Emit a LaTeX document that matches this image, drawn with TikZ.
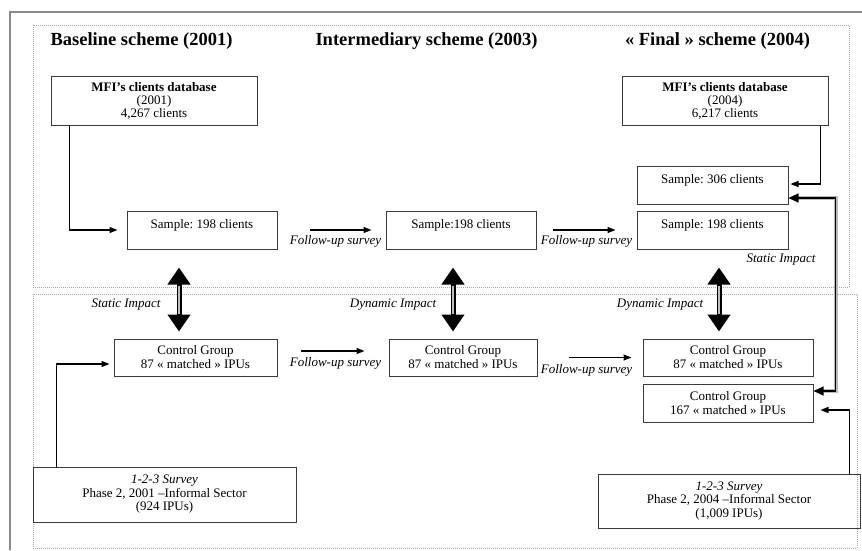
\documentclass[tikz,border=0pt]{standalone}
\usepackage{fontspec}
\setmainfont{Liberation Serif}
\frenchspacing
\usetikzlibrary{arrows.meta,calc}
\definecolor{boxline}{HTML}{3A3A3A}
\definecolor{frameline}{HTML}{8A8A8A}
\definecolor{dotline}{HTML}{A8A8A8}
\tikzset{
  box/.style={draw=boxline, line width=1pt, rectangle, inner sep=0pt, align=center,
    font=\fontsize{13}{13}\selectfont},
  ttl/.style={font=\fontsize{18.5}{20}\selectfont\bfseries, inner sep=0pt},
  lbl/.style={font=\fontsize{13}{13}\selectfont\itshape, inner sep=0pt},
  arr/.style={draw=black, line width=1.3pt, -{Triangle[width=6pt,length=8pt]}},
  bighead/.style={line width=5pt, {Triangle[width=22pt,length=17pt]}-{Triangle[width=22pt,length=17pt]}},
  bigcore/.style={draw=gray!50, line width=2pt},
}
\begin{document}
\begin{tikzpicture}[x=1pt,y=-1pt]
\useasboundingbox (0,0) rectangle (862,550);
% outer frame
\draw[frameline, line width=1.3pt] (862,12) -- (10,12) -- (10,550);
% dotted regions
\draw[dotline, line width=1pt, densely dotted] (33,25) rectangle (849,287);
\draw[dotline, line width=1pt, densely dotted] (33,294) rectangle (857,548);

% titles
\node[ttl] (t1) at (141.5,41) {Baseline scheme (2001)};
\node[ttl] (t2) at (426.5,41) {Intermediary scheme (2003)};
\node[ttl] (t3) at (717.5,41) {« Final » scheme (2004)};

% boxes
\node[box, minimum width=206pt, minimum height=49pt] (db1) at (154,100.5)
  {\textbf{MFI’s clients database}\\(2001)\\4,267 clients};
\node[box, minimum width=206pt, minimum height=49pt] (db2) at (725,100.5)
  {\textbf{MFI’s clients database}\\(2004)\\6,217 clients};
\node[box, minimum width=150pt, minimum height=38pt] (s1) at (202,230)
  {Sample: 198 clients\\\mbox{}};
\node[box, minimum width=150pt, minimum height=38pt] (s2) at (461,230)
  {Sample:198 clients\\\mbox{}};
\node[box, minimum width=151pt, minimum height=38pt] (s3) at (712.5,230)
  {Sample: 198 clients\\\mbox{}};
\node[box, minimum width=151pt, minimum height=38pt] (s306) at (712.5,185)
  {Sample: 306 clients\\\mbox{}};
\node[box, minimum width=163pt, minimum height=37pt] (c1) at (195.5,357.5)
  {Control Group\\[1pt]87 « matched » IPUs};
\node[box, minimum width=148pt, minimum height=37pt] (c2) at (463,357.5)
  {Control Group\\[1pt]87 « matched » IPUs};
\node[box, minimum width=170pt, minimum height=37pt] (c3) at (728,357.5)
  {Control Group\\[1pt]87 « matched » IPUs};
\node[box, minimum width=170pt, minimum height=38pt] (c167) at (728,403)
  {Control Group\\[1pt]167 « matched » IPUs};
\node[box, minimum width=263pt, minimum height=55pt] (sv1) at (164.5,494.5)
  {\textit{1-2-3 Survey}\\[0.5pt]Phase 2, 2001 –Informal Sector\\[0.5pt](924 IPUs)};
\node[box, minimum width=262pt, minimum height=54pt] (sv2) at (729,501)
  {\textit{1-2-3 Survey}\\[0.5pt]Phase 2, 2004 –Informal Sector\\[0.5pt](1,009 IPUs)};

% labels
\node[lbl] (fu1) at (335.5,241) {Follow-up survey};
\node[lbl] (fu2) at (586.5,241) {Follow-up survey};
\node[lbl] (fu3) at (335.5,363) {Follow-up survey};
\node[lbl] (fu4) at (586.5,370) {Follow-up survey};
\node[lbl] (si1) at (781,260) {Static Impact};
\node[lbl] (si2) at (126,305) {Static Impact};
\node[lbl] (di1) at (393,305) {Dynamic Impact};
\node[lbl] (di2) at (660,305) {Dynamic Impact};

% upper connectors
\draw[arr, shorten >=9pt] ([xshift=19pt]db1.south west) |- (s1.west);
\draw[arr, shorten <=32pt, shorten >=14pt] (s1.east) -- (s2.west);
\draw[arr, shorten <=16pt, shorten >=21pt] (s2.east) -- (s3.west);
\draw[arr, shorten >=2pt] ([xshift=-8pt]db2.south east) |- ([yshift=1pt]s306.east);

% gray double connector
\draw[gray!55, line width=4pt, shorten <=9pt, shorten >=9pt]
  ([yshift=-13pt]s306.east) -- ++(47,0) |- ([yshift=12pt]c167.east);
\draw[black, line width=1.2pt, {Triangle[width=9pt,length=10pt]}-{Triangle[width=9pt,length=10pt]}]
  ([yshift=-13pt]s306.east) -- ++(47,0) |- ([yshift=12pt]c167.east);

% big double-headed impact arrows
\draw[bighead, shorten <=18pt, shorten >=7pt] ([xshift=-23pt]s1.south) -- ([xshift=-23pt]s1.south |- c1.north);
\draw[bigcore, shorten <=36pt, shorten >=25pt] ([xshift=-23pt]s1.south) -- ([xshift=-23pt]s1.south |- c1.north);
\draw[bighead, shorten <=18pt, shorten >=7pt] ([xshift=-8pt]s2.south) -- ([xshift=-8pt]s2.south |- c2.north);
\draw[bigcore, shorten <=36pt, shorten >=25pt] ([xshift=-8pt]s2.south) -- ([xshift=-8pt]s2.south |- c2.north);
\draw[bighead, shorten <=18pt, shorten >=7pt] ([xshift=6.5pt]s3.south) -- ([xshift=6.5pt]s3.south |- c3.north);
\draw[bigcore, shorten <=36pt, shorten >=25pt] ([xshift=6.5pt]s3.south) -- ([xshift=6.5pt]s3.south |- c3.north);

% lower connectors
\draw[arr, shorten >=4pt] ([xshift=24pt]sv1.north west) |- ([yshift=-6.5pt]c1.west);
\draw[arr, shorten <=23pt, shorten >=24pt] ([yshift=6.5pt]c1.east) -- ([yshift=6.5pt]c2.west);
\draw[arr, shorten <=31pt, shorten >=11pt] (c2.east) -- (c3.west);
\draw[arr, shorten >=7pt] ([xshift=-11pt]sv2.north east) |- ([yshift=-7pt]c167.east);
\end{tikzpicture}
\end{document}
